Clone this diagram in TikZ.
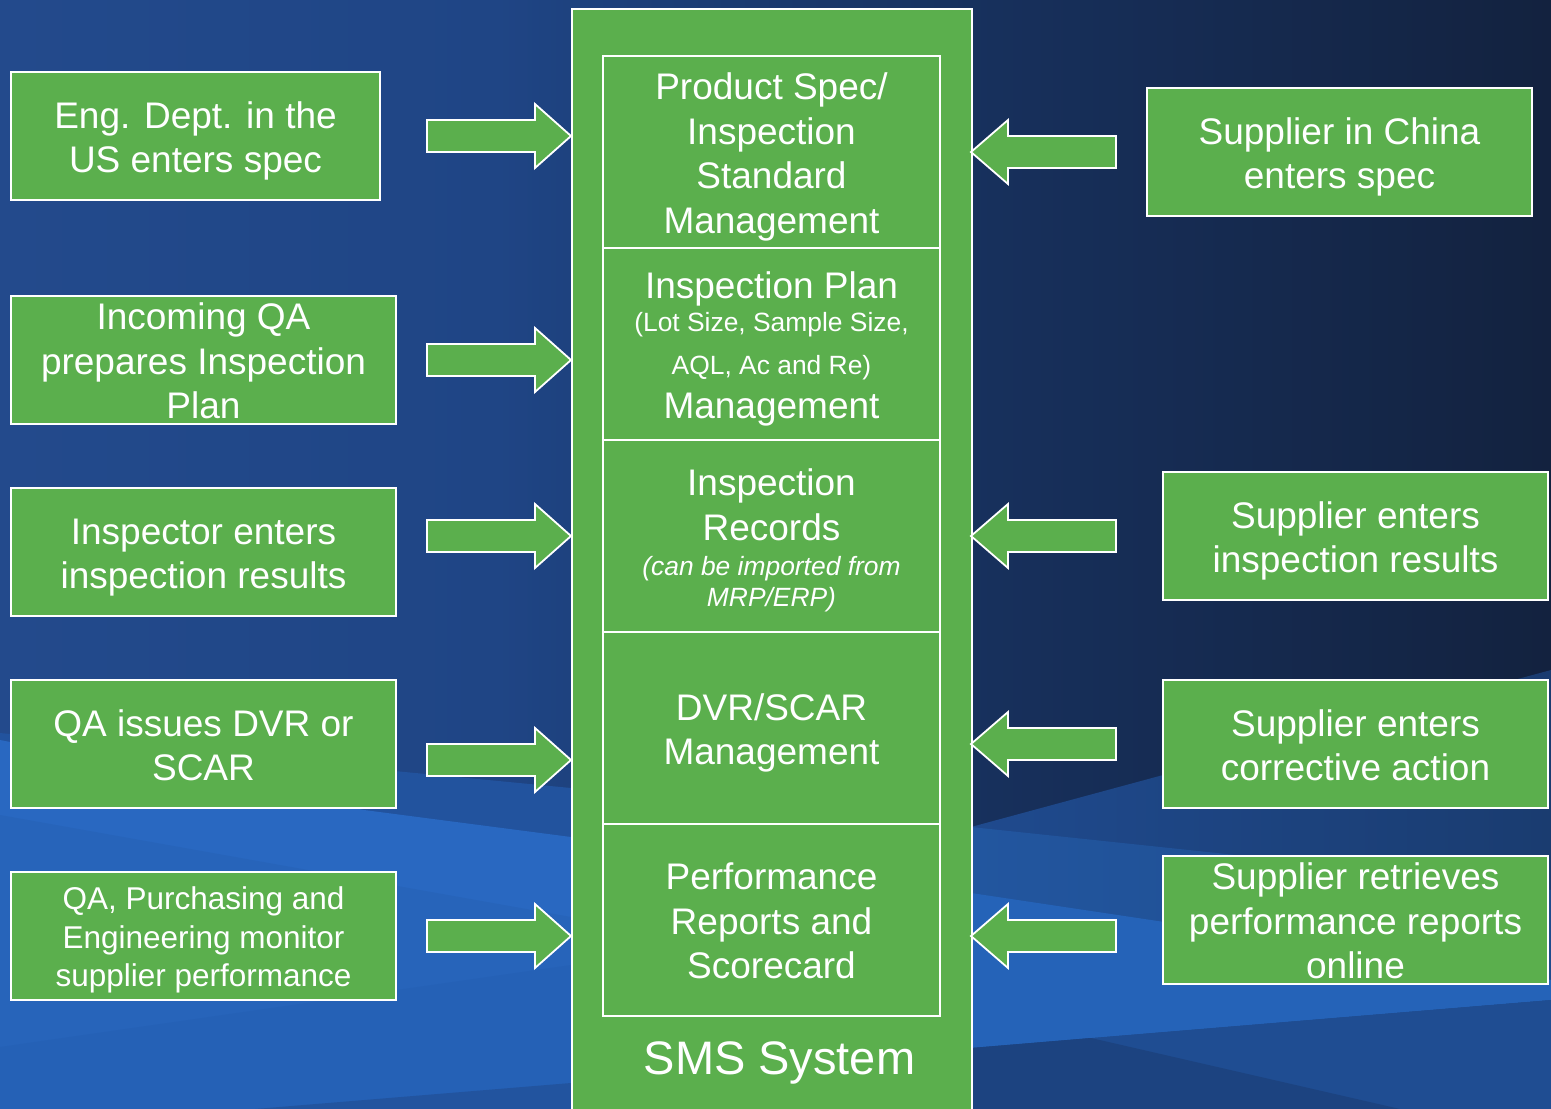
\documentclass[tikz,border=0pt]{standalone}
\usepackage{fontspec}
\setmainfont{Liberation Sans}
\usetikzlibrary{calc}
\definecolor{gfill}{HTML}{5BAF4D}
\definecolor{bgA}{HTML}{234A8C}
\definecolor{bgB}{HTML}{1F4585}
\definecolor{bgC}{HTML}{17305C}
\definecolor{bgD}{HTML}{13223F}
\definecolor{bandM}{HTML}{22539E}
\definecolor{bandB}{HTML}{2968C1}
\definecolor{bandB2}{HTML}{2764BA}
\definecolor{bandB3}{HTML}{2561B6}
\definecolor{bandD}{HTML}{22549F}
\definecolor{rM1}{HTML}{1F4A8E}
\definecolor{rM2}{HTML}{1A3C70}
\definecolor{rN1}{HTML}{22569F}
\definecolor{rN2}{HTML}{1F4B8C}
\definecolor{rL}{HTML}{2563B8}
\definecolor{rB}{HTML}{1F4D92}
\definecolor{rD}{HTML}{1C4380}
\pgfdeclarehorizontalshading{bgshade}{100bp}{color(0bp)=(bgA); color(25bp)=(bgA); color(41bp)=(bgB); color(57bp)=(bgC); color(75bp)=(bgD); color(100bp)=(bgD)}
\newcommand\fbig{\fontsize{37}{44.5}\selectfont}
\newcommand\fsmall{\fontsize{31.5}{38.5}\selectfont}
\newcommand\fnote{\fontsize{26.4}{31}\selectfont}
\newcommand\ftitle{\fontsize{47}{56}\selectfont}
\newcommand\tlines[5]{\foreach \tx [count=\i from 0] in {#5}{\node[txt] (#1\i) at (#2,{#3+\i*#4}) {\tx};}}
\newcommand\arrR[2]{\coordinate (#1) at (571,#2);
  \draw[barrow] (#1) -- ++(-36,-32) -- ++(0,16) -- ++(-108,0) -- ++(0,32) -- ++(108,0) -- ++(0,16) -- cycle;}
\newcommand\arrL[2]{\coordinate (#1) at (971,#2);
  \draw[barrow] (#1) -- ++(37,-32) -- ++(0,16) -- ++(108,0) -- ++(0,32) -- ++(-108,0) -- ++(0,16) -- cycle;}
\tikzset{
  gbox/.style={draw=white, line width=1.8pt, fill=gfill, inner sep=0pt},
  txt/.style={text=white, inner sep=0pt, anchor=base},
  barrow/.style={draw=white, line width=1.8pt, fill=gfill, line join=miter},
}
\begin{document}
\begin{tikzpicture}[x=1pt,y=-1pt]
\useasboundingbox (0,0) rectangle (1551,1109);
\begin{scope}
\clip (0,0) rectangle (1551,1109);
\shade[shading=bgshade] (0,0) rectangle (1551,1109);
% left lower bands
\fill[bandM] (0,733) -- (571,788) -- (571,1109) -- (0,1109) -- cycle;
\fill[bandB] (0,740) -- (364,810) -- (571,837) -- (571,1109) -- (0,1109) -- cycle;
\fill[bandB2] (0,815) -- (571,917) -- (571,1109) -- (0,1109) -- cycle;
\fill[bandB3] (0,1047) -- (571,965) -- (571,1109) -- (0,1109) -- cycle;
\fill[bandD] (255,1109) -- (571,1083) -- (571,1109) -- cycle;
% right lower bands
\shade[left color=rM1, right color=rM2] (971,827) -- (1551,670) -- (1551,1109) -- (971,1109) -- cycle;
\shade[left color=rN1, right color=rN2] (971,827) -- (1217,853) -- (1551,890) -- (1551,1109) -- (971,1109) -- cycle;
\fill[rL] (971,893) -- (1551,980) -- (1551,1000) -- (971,1048) -- cycle;
\fill[rB] (971,1048) -- (1551,1000) -- (1551,1109) -- (971,1109) -- cycle;
\fill[rD] (971,1048) -- (1091,1038) -- (1400,1109) -- (971,1109) -- cycle;
\end{scope}

% central system
\node[gbox, anchor=north west, minimum width=400pt, minimum height=1130pt] (SMS) at (571,8) {};
\node[gbox, minimum width=337pt, minimum height=192pt] (C1) at (771.5,152) {};
\node[gbox, minimum width=337pt, minimum height=192pt] (C2) at (771.5,344) {};
\node[gbox, minimum width=337pt, minimum height=192pt] (C3) at (771.5,536) {};
\node[gbox, minimum width=337pt, minimum height=192pt] (C4) at (771.5,728) {};
\node[gbox, minimum width=337pt, minimum height=192pt] (C5) at (771.5,920) {};

\begin{scope}[font=\fbig]
\tlines{C1t}{771.5}{99.5}{44.5}{Product Spec/,Inspection,Standard,Management}
\node[txt] (C2t0) at (771.5,298) {Inspection Plan};
\node[txt] (C2t3) at (771.5,418) {Management};
\node[txt] (C3t0) at (771.5,495) {Inspection};
\node[txt] (C3t1) at (771.5,540) {Records};
\tlines{C4t}{771.5}{720}{44.5}{DVR/SCAR,Management}
\tlines{C5t}{771.5}{889.7}{44.5}{Performance,Reports and,Scorecard}
\end{scope}
\begin{scope}[font=\fnote]
\node[txt] (C2t1) at (771.5,331.5) {(Lot Size, Sample Size,};
\node[txt] (C2t2) at (771.5,374.5) {AQL, Ac and Re)};
\node[txt, font=\fnote\itshape] (C3t2) at (771.5,575) {(can be imported from};
\node[txt, font=\fnote\itshape] (C3t3) at (771.5,606) {MRP/ERP)};
\end{scope}
\node[txt, font=\ftitle] (SMSt) at (779.5,1074) {SMS System};

% left boxes
\node[gbox, minimum width=369pt, minimum height=128pt] (L1) at (195.5,136) {};
\node[gbox, minimum width=385pt, minimum height=128pt] (L2) at (203.5,360) {};
\node[gbox, minimum width=385pt, minimum height=128pt] (L3) at (203.5,552) {};
\node[gbox, minimum width=385pt, minimum height=128pt] (L4) at (203.5,744) {};
\node[gbox, minimum width=385pt, minimum height=128pt] (L5) at (203.5,936) {};
% right boxes
\node[gbox, minimum width=385pt, minimum height=128pt] (R1) at (1339.5,152) {};
\node[gbox, minimum width=385pt, minimum height=128pt] (R2) at (1355.5,536) {};
\node[gbox, minimum width=385pt, minimum height=128pt] (R3) at (1355.5,744) {};
\node[gbox, minimum width=385pt, minimum height=128pt] (R4) at (1355.5,920) {};

\begin{scope}[font=\fbig]
\tlines{L1t}{195.5}{128}{44.5}{Eng. Dept. in the,US enters spec}
\tlines{L2t}{203.5}{329.7}{44.5}{Incoming QA,prepares Inspection,Plan}
\tlines{L3t}{203.5}{544}{44.5}{Inspector enters,inspection results}
\tlines{L4t}{203.5}{736}{44.5}{QA issues DVR or,SCAR}
\tlines{R1t}{1339.5}{144}{44.5}{Supplier in China,enters spec}
\tlines{R2t}{1355.5}{528}{44.5}{Supplier enters,inspection results}
\tlines{R3t}{1355.5}{736}{44.5}{Supplier enters,corrective action}
\tlines{R4t}{1355.5}{889.7}{44.5}{Supplier retrieves,performance reports,online}
\end{scope}
\begin{scope}[font=\fsmall]
\tlines{L5t}{203.5}{909.8}{38.5}{{QA, Purchasing and},Engineering monitor,supplier performance}
\end{scope}

% block arrows
\arrR{a1}{136}
\arrR{a2}{360}
\arrR{a3}{536}
\arrR{a4}{760}
\arrR{a5}{936}
\arrL{b1}{152}
\arrL{b2}{536}
\arrL{b3}{744}
\arrL{b4}{936}
\end{tikzpicture}
\end{document}
